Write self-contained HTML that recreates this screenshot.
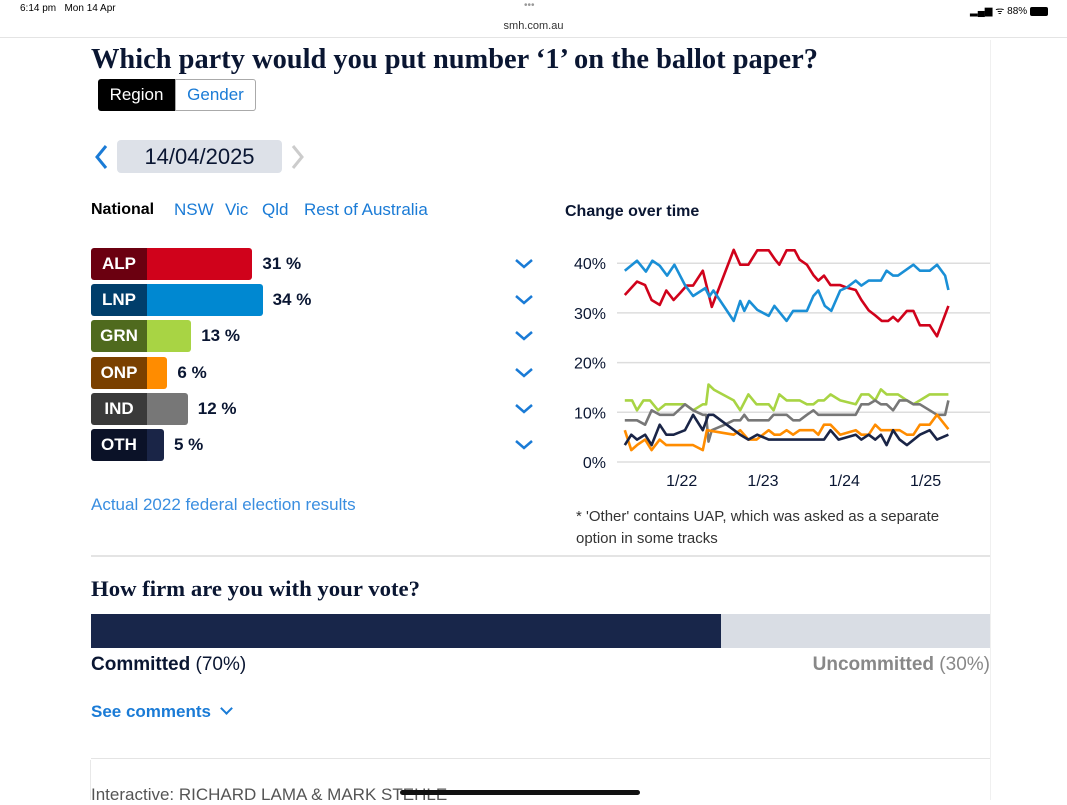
<!DOCTYPE html>
<html><head><meta charset="utf-8">
<style>
*{box-sizing:border-box;margin:0;padding:0}
body{width:1067px;height:800px;background:#fff;font-family:"Liberation Sans",sans-serif;position:relative;overflow:hidden;color:#0a1632}
.abs{position:absolute;white-space:nowrap}
.tab{position:absolute;top:200px;font-size:17px;color:#1a7bd6;white-space:nowrap}
.row{position:absolute;left:91px;height:32px;width:400px}
.lab{position:absolute;left:0;top:0;width:56px;height:32px;color:#fff;font-weight:bold;font-size:17px;text-align:center;line-height:32px;border-radius:3px 0 0 3px}
.bar{position:absolute;left:56px;top:0;height:32px;border-radius:0 3px 3px 0}
.val{position:absolute;top:0;line-height:32px;font-weight:bold;font-size:17px;color:#0a1632;white-space:nowrap}
.chev{position:absolute;left:514px;width:20px;height:12px}
</style></head><body>
<div class="abs" style="left:20px;top:3px;font-size:10px;color:#000">6:14 pm&nbsp;&nbsp; Mon 14 Apr</div>
<div class="abs" style="left:524px;top:0px;font-size:10px;color:#999">•••</div>
<div class="abs" style="left:970px;top:3px;font-size:10px;color:#000">▂▄▆ ᯤ 88% <span style="display:inline-block;width:18px;height:9px;background:#000;border-radius:2px;vertical-align:middle"></span></div>
<div class="abs" style="left:0;width:1067px;top:20px;text-align:center;font-size:11px;color:#333">smh.com.au</div>
<div class="abs" style="left:0;top:37px;width:1067px;height:1px;background:#e4e4e4"></div>
<div class="abs" style="left:990px;top:40px;width:1px;height:760px;background:#f0f0f0"></div>
<div class="abs" style="left:90px;top:760px;width:1px;height:40px;background:#e8e8e8"></div>

<svg class="abs" style="left:0;top:40px" width="900" height="40"><text x="91" y="28" font-family="Liberation Serif,serif" font-weight="bold" font-size="28" fill="#0a1632" textLength="727" lengthAdjust="spacingAndGlyphs">Which party would you put number ‘1’ on the ballot paper?</text></svg>

<div class="abs" style="left:98px;top:79px;width:77px;height:32px;background:#000;color:#fff;font-size:17px;line-height:32px;text-align:center;border-radius:3px 0 0 3px">Region</div>
<div class="abs" style="left:175px;top:79px;width:81px;height:32px;border:1px solid #aaa;color:#1a7bd6;font-size:17px;line-height:30px;text-align:center;border-radius:0 3px 3px 0">Gender</div>

<svg class="abs" style="left:94px;top:144px" width="16" height="26"><polyline points="12,2 3,13 12,24" fill="none" stroke="#1a7bd6" stroke-width="3"/></svg>
<div class="abs" style="left:117px;top:140px;width:165px;height:33px;background:#dde1e8;border-radius:4px;font-size:22px;line-height:33px;text-align:center;color:#0a1632">14/04/2025</div>
<svg class="abs" style="left:290px;top:144px" width="16" height="26"><polyline points="3,2 12,13 3,24" fill="none" stroke="#ccc" stroke-width="3"/></svg>

<div class="tab" style="left:91px;color:#000;font-weight:bold;font-size:16px;top:201px">National</div>
<div class="tab" style="left:174px">NSW</div>
<div class="tab" style="left:225px">Vic</div>
<div class="tab" style="left:262px">Qld</div>
<div class="tab" style="left:304px">Rest of Australia</div>

<div id="bars"></div>

<div class="abs" style="left:91px;top:495px;font-size:17px;color:#3a8ee0">Actual 2022 federal election results</div>

<div class="abs" style="left:565px;top:203px;font-size:16px;font-weight:bold;color:#0a1632">Change over time</div>
<svg id="chart" class="abs" style="left:560px;top:240px" width="440" height="260"></svg>
<div class="abs" style="left:576px;top:506px;font-size:15px;line-height:22px;color:#333;width:400px;white-space:normal">* 'Other' contains UAP, which was asked as a separate option in some tracks</div>

<div class="abs" style="left:91px;top:555px;width:899px;height:2px;background:#e4e4e4"></div>
<svg class="abs" style="left:0;top:570px" width="600" height="34"><text x="91" y="26" font-family="Liberation Serif,serif" font-weight="bold" font-size="22" fill="#0a1632" textLength="329" lengthAdjust="spacingAndGlyphs">How firm are you with your vote?</text></svg>
<div class="abs" style="left:91px;top:614px;width:899px;height:34px;background:#d9dde4"></div>
<div class="abs" style="left:91px;top:614px;width:630px;height:34px;background:#18264a"></div>
<div class="abs" style="left:91px;top:654px;font-size:19px;color:#0a1632"><b>Committed</b> (70%)</div>
<div class="abs" style="right:77px;top:654px;font-size:19px;color:#888"><b>Uncommitted</b> (30%)</div>
<div class="abs" style="left:91px;top:702px;font-size:17px;font-weight:bold;color:#1a7bd6">See comments <span style="display:inline-block;width:9px;height:9px;border-right:2px solid #1a7bd6;border-bottom:2px solid #1a7bd6;transform:rotate(45deg);margin:0 0 4px 6px"></span></div>
<div class="abs" style="left:91px;top:758px;width:899px;height:1px;background:#e4e4e4"></div>
<div class="abs" style="left:91px;top:785px;font-size:17px;color:#555">Interactive: RICHARD LAMA &amp; MARK STEHLE</div>
<div class="abs" style="left:400px;top:790px;width:240px;height:5px;border-radius:3px;background:#111"></div>

<script>
const parties=['ALP','LNP','GRN','ONP','IND','OTH'];
const shares=[31,34,13,6,12,5];
const dark=['#6b0010','#003e6b','#4f6a1e','#7a4000','#3a3a3a','#0b1228'];
const light=['#d0021b','#0088d1','#a8d444','#ff8c00','#777','#1a2547'];
const bc=document.getElementById('bars');
const rowH=36.2, top0=248, scale=3.4;
parties.forEach((p,i)=>{
  const r=document.createElement('div');r.className='row';r.style.top=(top0+i*rowH)+'px';
  
  
  const l=document.createElement('div');l.className='lab';l.style.background=dark[i];l.textContent=p;
  
  
  const b=document.createElement('div');b.className='bar';b.style.background=light[i];b.style.width=(shares[i]*scale)+'px';
  
  
  const v=document.createElement('div');v.className='val';v.style.left=(56+shares[i]*scale+10)+'px';v.textContent=shares[i]+' %';
  
  
  r.append(l,b,v);bc.appendChild(r);
  const c=document.createElementNS('http://www.w3.org/2000/svg','svg');
  c.setAttribute('class','chev');c.style.top=(top0+i*rowH+10)+'px';c.setAttribute('width','20');c.setAttribute('height','12');
  c.innerHTML='<polyline points="2,2 10,9 18,2" fill="none" stroke="#1a7bd6" stroke-width="2.5"/>';
  
  
  bc.appendChild(c);
});

// trend chart data
const yTicks=[0,10,20,30,40];
const xTicks=[2022,2023,2024,2025];
const xTickLabels=['1/22','1/23','1/24','1/25'];
const alpDates=[2021.30,2021.45,2021.55,2021.63,2021.73,2021.81,2021.90,2021.98,2022.06,2022.14,2022.26,2022.37,2022.64,2022.72,2022.82,2022.93,2023.07,2023.15,2023.20,2023.29,2023.39,2023.45,2023.54,2023.62,2023.68,2023.75,2023.83,2023.95,2024.03,2024.14,2024.21,2024.30,2024.38,2024.46,2024.54,2024.60,2024.66,2024.77,2024.85,2024.93,2025.05,2025.14,2025.28];
const alpVals=[33.6,36.3,35.6,32.6,31.6,34.5,32.6,34,35.5,35.5,38.5,31.2,42.7,39.7,39.7,42.6,42.6,40.7,39.7,42.6,42.6,40.7,39.7,37.6,36.5,37.5,35.6,35.6,35.1,34.6,32.6,30.5,29.5,28.4,28.4,29.2,28.3,30.4,30.4,27.5,27.5,25.3,31.4];
const lnpDates=[2021.30,2021.45,2021.56,2021.64,2021.73,2021.82,2021.91,2022.04,2022.14,2022.29,2022.34,2022.39,2022.64,2022.72,2022.77,2022.83,2022.93,2023.07,2023.14,2023.29,2023.37,2023.54,2023.62,2023.68,2023.76,2023.84,2023.95,2024.03,2024.14,2024.21,2024.30,2024.45,2024.52,2024.60,2024.66,2024.85,2024.93,2025.05,2025.14,2025.24,2025.28];
const lnpVals=[38.5,40.5,38.3,40.5,39.5,37.5,39.7,35.6,33.4,35,33.3,34.5,28.4,32.4,30.4,32.4,30.6,29.4,31.4,28.4,30.4,30.4,33.4,34.5,31.4,30.4,34.5,35.1,36.5,35.5,36.5,36.5,38.5,37.5,37.5,39.7,38.5,38.5,39.7,37.5,34.6];
const grnDates=[2021.30,2021.39,2021.45,2021.53,2021.61,2021.71,2021.80,2022.04,2022.14,2022.26,2022.30,2022.33,2022.40,2022.64,2022.72,2022.82,2022.92,2023.07,2023.13,2023.20,2023.29,2023.45,2023.54,2023.62,2023.68,2023.75,2023.83,2023.95,2024.14,2024.21,2024.30,2024.38,2024.45,2024.52,2024.66,2024.77,2024.85,2024.93,2025.05,2025.28];
const grnVals=[12.4,12.4,10.4,12.4,12.4,10.4,11.6,11.6,10.4,11.6,11.6,15.6,14.5,12.4,10.4,13.6,11.6,11.6,10.4,13.6,12.4,12.4,11.6,11.6,12.4,12.4,13.6,12.4,11.6,13.6,13.6,12.4,14.6,13.6,13.6,12.4,11.6,12.4,13.6,13.6];
const onpDates=[2021.30,2021.38,2021.45,2021.55,2021.63,2021.73,2021.81,2022.14,2022.26,2022.31,2022.64,2022.72,2022.82,2022.92,2023.07,2023.14,2023.21,2023.29,2023.37,2023.45,2023.62,2023.68,2023.75,2023.83,2023.95,2024.14,2024.21,2024.30,2024.38,2024.45,2024.68,2024.77,2024.85,2024.93,2025.05,2025.14,2025.28];
const onpVals=[6.4,2.4,3.4,4.5,2.4,4.5,3.4,3.4,2.4,6.4,5.5,6.4,4.5,4.5,6.4,5.5,5.5,6.4,5.5,6.4,6.4,5.5,7.5,7.5,5.5,6.4,5.5,5.5,7.5,6.4,6.4,5.5,5.5,7.5,7.5,9.5,6.6];
const indDates=[2021.30,2021.45,2021.55,2021.63,2021.73,2021.90,2022.04,2022.14,2022.26,2022.30,2022.33,2022.37,2022.53,2022.64,2022.72,2022.77,2022.82,2023.07,2023.13,2023.29,2023.37,2023.45,2023.54,2023.62,2023.68,2024.14,2024.21,2024.30,2024.38,2024.45,2024.52,2024.60,2024.68,2024.77,2024.85,2024.93,2025.05,2025.14,2025.24,2025.28];
const indVals=[8.4,8.4,7.5,10.4,9.5,9.5,11.6,10.4,9.5,9.5,4.1,6.4,7.5,8.4,8.4,9.5,8.4,8.4,9.5,9.5,8.4,8.4,9.5,10.4,9.5,9.5,11.6,11.6,12.4,11.6,11.6,10.4,12.4,12.4,11.6,11.6,10.4,9.5,9.5,12.4];
const othDates=[2021.30,2021.38,2021.45,2021.55,2021.63,2021.73,2021.81,2021.90,2022.04,2022.14,2022.26,2022.33,2022.39,2022.72,2022.82,2022.93,2023.07,2023.75,2023.83,2023.93,2024.14,2024.21,2024.30,2024.38,2024.45,2024.52,2024.60,2024.68,2024.77,2024.93,2025.05,2025.14,2025.28];
const othVals=[3.4,5.5,4.5,5.5,3.4,7.5,5.5,5.5,6.4,9.5,6.4,9.5,9.5,5.5,4.5,5.5,4.5,4.5,6.4,4.5,5.5,4.5,5.5,4.5,5.5,3.4,6.4,4.5,3.4,5.5,6.4,4.5,5.5];

const svg=document.getElementById('chart');
const NS='http://www.w3.org/2000/svg';
const X=t=>121.7+(t-2022)*81.3;   // local coords (svg left 560)
const Y=v=>222-v*4.97;
function el(tag,attrs){const e=document.createElementNS(NS,tag);for(const k in attrs)e.setAttribute(k,attrs[k]);svg.appendChild(e);return e;}
yTicks.forEach(v=>{
  const g=el('line',{x1:57,x2:430,y1:Y(v),y2:Y(v),stroke:'#ddd','stroke-width':1.5});
  
  
  const t=el('text',{x:46,y:Y(v)+6,'text-anchor':'end','font-size':16,fill:'#0a1632','font-family':'Liberation Sans,sans-serif'});
  t.textContent=v+'%';
  
  
});
xTicks.forEach((v,i)=>{
  const t=el('text',{x:X(v),y:246,'text-anchor':'middle','font-size':16,fill:'#0a1632','font-family':'Liberation Sans,sans-serif'});
  t.textContent=xTickLabels[i];
  
  
});
const series=[['grn',grnDates,grnVals,'#a8d444'],['ind',indDates,indVals,'#777'],['onp',onpDates,onpVals,'#ff8c00'],['oth',othDates,othVals,'#1a2547'],['alp',alpDates,alpVals,'#d0021b'],['lnp',lnpDates,lnpVals,'#1a8fd6']];
series.forEach(([n,d,v,c])=>{
  const pts=d.map((t,i)=>X(t).toFixed(1)+','+Y(v[i]).toFixed(1)).join(' ');
  const p=el('polyline',{points:pts,fill:'none',stroke:c,'stroke-width':2.6,'stroke-linejoin':'round'});
  
  
});
</script>
</body></html>
